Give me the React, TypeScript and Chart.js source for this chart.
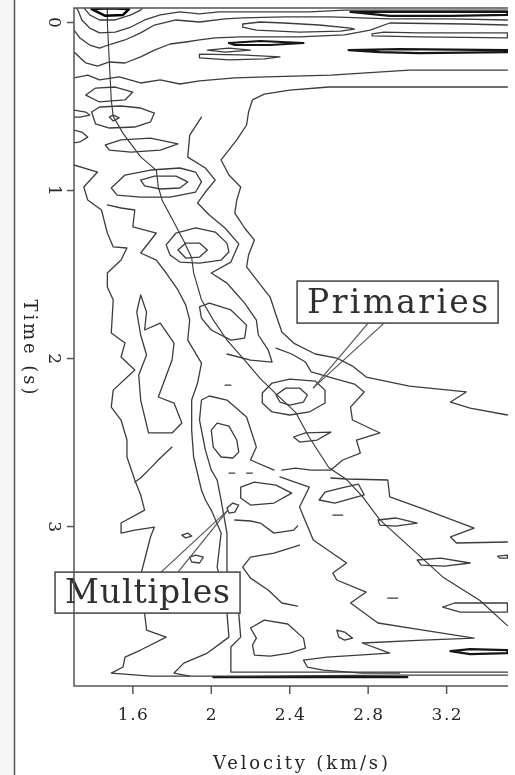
import React, { useEffect, useRef } from "react";
import { Chart, registerables } from "chart.js";

Chart.register(...registerables);

type P = [number, number];

// ---- axes ----
const xRange: P = [1.3, 3.513];
const yRange: P = [-0.0863, 3.949];
const xTickValues = [1.6, 2, 2.4, 2.8, 3.2];
const xTickLabels = ["1.6", "2", "2.4", "2.8", "3.2"];
const yTickValues = [0, 1, 2, 3];
const yTickLabels = ["0", "1", "2", "3"];
const xTitle = "Velocity (km/s)";
const yTitle = "Time (s)";

// ---- picked velocity trend (velocity km/s, time s) ----
const trendCurve: P[] = [
  [1.47, -0.09], [1.47, 0.0], [1.49, 0.46], [1.5, 0.56], [1.55, 0.66], [1.64, 0.8], [1.72, 0.88],
  [1.73, 0.98], [1.75, 1.06], [1.81, 1.19], [1.86, 1.3], [1.9, 1.4], [1.91, 1.49], [1.95, 1.65],
  [2.01, 1.77], [2.08, 1.89], [2.17, 2.01], [2.25, 2.12], [2.33, 2.21], [2.43, 2.32], [2.5, 2.47],
  [2.6, 2.65], [2.69, 2.72], [2.77, 2.82], [2.86, 2.96], [3.03, 3.14], [3.18, 3.3], [3.37, 3.44],
  [3.51, 3.59],
];

// ---- semblance contours (velocity km/s, time s) ----
const blobCore: P[] = [[1.39, -0.08], [1.48, -0.085], [1.58, -0.08], [1.55, -0.045], [1.46, -0.04], [1.39, -0.08]];
const blobRing: P[] = [[1.35, -0.09], [1.36, -0.074], [1.38, -0.045], [1.43, -0.015], [1.51, -0.015], [1.59, -0.045], [1.64, -0.074], [1.65, -0.09]];
const topBand1: P[] = [[1.31, -0.09], [1.32, -0.074], [1.34, -0.015], [1.38, 0.033], [1.43, 0.062], [1.51, 0.057], [1.59, 0.027], [1.66, -0.015], [1.74, -0.045], [1.84, -0.063], [1.94, -0.051], [2.04, -0.063], [2.5, -0.063], [2.68, -0.074], [3.06, -0.074], [3.51, -0.074]];
const topDark1: P[] = [[2.71, -0.063], [2.86, -0.063], [3.51, -0.063], [3.51, -0.045], [3.22, -0.039], [2.91, -0.039], [2.71, -0.063]];
const topBand2: P[] = [[1.3, 0.045], [1.33, 0.092], [1.38, 0.134], [1.43, 0.152], [1.49, 0.128], [1.56, 0.104], [1.64, 0.062], [1.71, 0.015], [1.82, -0.015], [1.94, -0.003], [2.07, -0.021], [2.16, -0.027], [2.37, -0.033], [2.61, -0.033], [2.76, -0.027], [2.91, -0.021], [3.22, -0.021], [3.51, -0.015]];
const topLens1: P[] = [[2.16, 0.009], [2.25, -0.003], [2.37, 0.003], [2.55, 0.015], [2.71, 0.033], [2.73, 0.039], [2.66, 0.051], [2.45, 0.057], [2.23, 0.045], [2.16, 0.027], [2.16, 0.009]];
const topBand3: P[] = [[1.3, 0.176], [1.36, 0.241], [1.42, 0.259], [1.48, 0.235], [1.56, 0.241], [1.64, 0.205], [1.71, 0.164], [1.79, 0.128], [1.87, 0.116], [1.94, 0.104], [2.02, 0.092], [2.15, 0.086], [2.45, 0.086], [2.68, 0.074], [2.81, 0.045], [2.91, 0.003], [3.3, 0.009], [3.51, 0.015]];
const topLens2: P[] = [[2.82, 0.068], [2.88, 0.057], [3.06, 0.062], [3.51, 0.062], [3.51, 0.092], [3.06, 0.086], [2.82, 0.08], [2.82, 0.068]];
const topDark2: P[] = [[2.09, 0.122], [2.25, 0.11], [2.47, 0.122], [2.3, 0.134], [2.12, 0.134], [2.09, 0.122]];
const topLens3: P[] = [[1.98, 0.164], [2.09, 0.152], [2.2, 0.164], [2.07, 0.176], [1.98, 0.164]];
const topLens4: P[] = [[1.94, 0.188], [2.15, 0.193], [2.35, 0.205], [2.27, 0.217], [2.09, 0.223], [1.94, 0.211], [1.94, 0.188]];
const topDark3: P[] = [[2.7, 0.164], [2.96, 0.158], [3.51, 0.164], [3.51, 0.176], [3.06, 0.182], [2.86, 0.176], [2.7, 0.164]];
const topBand4: P[] = [[1.3, 0.33], [1.37, 0.313], [1.43, 0.342], [1.53, 0.324], [1.64, 0.36], [1.74, 0.342], [1.84, 0.366], [1.94, 0.348], [2.12, 0.33], [2.28, 0.324], [2.61, 0.313], [3.01, 0.283], [3.51, 0.283]];
const outerBoundary: P[] = [[3.51, 0.384], [3.06, 0.384], [2.6, 0.384], [2.4, 0.402], [2.27, 0.426], [2.21, 0.461], [2.19, 0.533], [2.18, 0.61], [2.13, 0.699], [2.05, 0.818], [2.09, 0.908], [2.15, 0.979], [2.13, 1.057], [2.12, 1.134], [2.17, 1.223], [2.22, 1.295], [2.19, 1.384], [2.18, 1.455], [2.24, 1.545], [2.3, 1.634], [2.33, 1.741], [2.36, 1.842], [2.42, 1.908], [2.53, 1.973], [2.64, 1.997], [2.72, 2.045], [2.79, 2.11], [3.01, 2.164], [3.3, 2.199], [3.22, 2.259], [3.32, 2.295], [3.51, 2.336]];
const lensA: P[] = [[1.36, 0.432], [1.41, 0.39], [1.51, 0.384], [1.6, 0.414], [1.56, 0.461], [1.43, 0.473], [1.36, 0.432]];
const edgeLoopA: P[] = [[1.3, 0.521], [1.36, 0.533], [1.38, 0.551], [1.33, 0.563], [1.3, 0.563]];
const ringSmall: P[] = [[1.48, 0.563], [1.5, 0.551], [1.53, 0.568], [1.5, 0.586], [1.48, 0.563]];
const lensB: P[] = [[1.39, 0.533], [1.43, 0.503], [1.54, 0.497], [1.64, 0.509], [1.71, 0.539], [1.69, 0.592], [1.61, 0.622], [1.48, 0.628], [1.41, 0.604], [1.39, 0.533]];
const lensC: P[] = [[1.46, 0.729], [1.54, 0.699], [1.69, 0.688], [1.83, 0.723], [1.74, 0.759], [1.59, 0.771], [1.48, 0.759], [1.46, 0.729]];
const edgeLoopB: P[] = [[1.3, 0.64], [1.34, 0.652], [1.37, 0.682], [1.33, 0.711], [1.3, 0.717]];
const peak1Inner: P[] = [[1.64, 0.938], [1.71, 0.914], [1.82, 0.914], [1.88, 0.949], [1.84, 0.985], [1.74, 0.991], [1.66, 0.973], [1.64, 0.938]];
const peak1Outer: P[] = [[1.49, 0.985], [1.56, 0.908], [1.69, 0.878], [1.84, 0.866], [1.92, 0.89], [1.95, 0.949], [1.92, 1.009], [1.79, 1.039], [1.64, 1.039], [1.52, 1.027], [1.49, 0.985]];
const peak2Inner: P[] = [[1.83, 1.354], [1.87, 1.313], [1.94, 1.313], [1.98, 1.354], [1.94, 1.396], [1.87, 1.402], [1.83, 1.354]];
const peak2Outer: P[] = [[1.77, 1.324], [1.82, 1.253], [1.92, 1.223], [2.02, 1.247], [2.08, 1.313], [2.09, 1.366], [2.05, 1.414], [1.94, 1.432], [1.84, 1.426], [1.79, 1.384], [1.77, 1.324]];
const leftWave: P[] = [[1.3, 0.848], [1.42, 0.89], [1.35, 0.979], [1.37, 1.057], [1.44, 1.116], [1.47, 1.253], [1.5, 1.336], [1.57, 1.342], [1.54, 1.414], [1.47, 1.491], [1.47, 1.574], [1.5, 1.652], [1.49, 1.848], [1.56, 1.908], [1.54, 1.991], [1.61, 2.068], [1.5, 2.188], [1.49, 2.289], [1.54, 2.366], [1.57, 2.485], [1.57, 2.586], [1.61, 2.723], [1.64, 2.812], [1.66, 2.902], [1.54, 2.979], [1.54, 3.039], [1.61, 3.021], [1.71, 3.003], [1.69, 3.062], [1.66, 3.199], [1.64, 3.289], [1.66, 3.515], [1.67, 3.616], [1.77, 3.658], [1.64, 3.735], [1.56, 3.777], [1.55, 3.836], [1.49, 3.872], [1.69, 3.89], [2.15, 3.89], [2.96, 3.884], [3.51, 3.884]];
const midWave: P[] = [[1.47, 1.086], [1.54, 1.104], [1.61, 1.116], [1.6, 1.217], [1.72, 1.253], [1.64, 1.372], [1.72, 1.414], [1.77, 1.491], [1.83, 1.592], [1.87, 1.682], [1.89, 1.771], [1.88, 1.89], [1.95, 2.027], [1.93, 2.146], [1.9, 2.247], [1.9, 2.426], [1.91, 2.586], [1.95, 2.783], [1.97, 2.842], [2.0, 2.902], [2.05, 3.039], [2.03, 3.241], [2.06, 3.378], [2.08, 3.515], [2.09, 3.658], [1.98, 3.753], [1.86, 3.813], [1.81, 3.872], [1.89, 3.89]];
const rightWave: P[] = [[1.95, 0.563], [1.89, 0.67], [1.88, 0.801], [1.97, 0.866], [2.02, 0.938], [1.97, 1.009], [1.93, 1.074], [1.99, 1.146], [2.07, 1.223], [2.14, 1.318], [2.1, 1.426], [2.0, 1.491], [2.08, 1.551], [2.12, 1.604], [2.17, 1.67], [2.23, 1.771], [2.24, 1.86], [2.29, 1.949], [2.31, 2.021], [2.2, 2.009], [2.08, 1.973]];
const tongue: P[] = [[1.64, 1.622], [1.67, 1.723], [1.66, 1.83], [1.74, 1.789], [1.81, 1.908], [1.8, 2.009], [1.73, 2.229], [1.81, 2.265], [1.85, 2.384], [1.8, 2.443], [1.68, 2.443], [1.64, 2.247], [1.63, 2.098], [1.67, 1.979], [1.64, 1.86], [1.62, 1.723], [1.64, 1.622]];
const ovalD: P[] = [[1.94, 1.693], [1.99, 1.67], [2.1, 1.711], [2.18, 1.801], [2.17, 1.878], [2.1, 1.89], [2.0, 1.83], [1.95, 1.759], [1.94, 1.693]];
const lowerWave: P[] = [[2.32, 2.664], [2.2, 2.604], [2.23, 2.527], [2.18, 2.348], [2.08, 2.247], [1.99, 2.223], [1.95, 2.247], [1.94, 2.366], [1.97, 2.545], [2.0, 2.664], [2.03, 2.723], [2.05, 2.842], [2.08, 3.039], [2.08, 3.259], [2.12, 3.408], [2.14, 3.515], [2.15, 3.658], [2.1, 3.717], [2.1, 3.795], [2.1, 3.866], [2.45, 3.866], [3.51, 3.866]];
const egg: P[] = [[2.0, 2.426], [2.03, 2.384], [2.09, 2.402], [2.13, 2.485], [2.14, 2.557], [2.11, 2.592], [2.05, 2.586], [2.01, 2.527], [2.0, 2.426]];
const peak3Inner: P[] = [[2.33, 2.217], [2.38, 2.176], [2.45, 2.176], [2.49, 2.217], [2.47, 2.259], [2.4, 2.277], [2.35, 2.259], [2.33, 2.217]];
const peak3Outer: P[] = [[2.26, 2.205], [2.31, 2.146], [2.4, 2.122], [2.53, 2.134], [2.58, 2.188], [2.58, 2.265], [2.5, 2.318], [2.4, 2.336], [2.31, 2.318], [2.26, 2.265], [2.26, 2.205]];
const peak3Wave: P[] = [[2.33, 1.938], [2.41, 1.973], [2.48, 2.021], [2.51, 2.08], [2.62, 2.116], [2.73, 2.152], [2.78, 2.199], [2.71, 2.289], [2.72, 2.366], [2.86, 2.443], [2.74, 2.485], [2.76, 2.563], [2.67, 2.604], [2.61, 2.664], [2.51, 2.664], [2.43, 2.652], [2.36, 2.664]];
const lensE: P[] = [[2.42, 2.467], [2.48, 2.443], [2.61, 2.438], [2.54, 2.485], [2.45, 2.497], [2.42, 2.467]];
const rightLine1: P[] = [[2.61, 2.711], [2.69, 2.717], [2.9, 2.723], [2.91, 2.824], [3.07, 2.89], [3.34, 3.009], [3.22, 3.062], [3.25, 3.098], [3.51, 3.092]];
const loopF: P[] = [[2.55, 2.842], [2.63, 2.86], [2.78, 2.812], [2.75, 2.747], [2.66, 2.771], [2.58, 2.795], [2.55, 2.842]];
const lensG: P[] = [[2.85, 2.961], [2.94, 2.949], [3.05, 2.979], [2.94, 2.997], [2.86, 2.991], [2.85, 2.961]];
const lensH: P[] = [[3.05, 3.199], [3.17, 3.188], [3.32, 3.217], [3.19, 3.235], [3.07, 3.229], [3.05, 3.199]];
const edgeLoopC: P[] = [[3.46, 3.176], [3.51, 3.17], [3.51, 3.188], [3.47, 3.188], [3.46, 3.176]];
const lensI: P[] = [[3.18, 3.479], [3.24, 3.455], [3.51, 3.455], [3.51, 3.509], [3.27, 3.509], [3.18, 3.479]];
const darkLensJ: P[] = [[3.22, 3.741], [3.32, 3.729], [3.51, 3.735], [3.51, 3.753], [3.32, 3.759], [3.22, 3.741]];
const meander: P[] = [[2.35, 2.705], [2.5, 2.765], [2.45, 2.884], [2.52, 3.08], [2.69, 3.217], [2.62, 3.277], [2.64, 3.318], [2.79, 3.39], [2.71, 3.455], [2.85, 3.574], [3.08, 3.616], [3.34, 3.664], [3.08, 3.676], [2.77, 3.693], [2.91, 3.753], [2.59, 3.777], [2.47, 3.795], [2.49, 3.836], [2.57, 3.854], [2.77, 3.872], [2.96, 3.872]];
const loopK: P[] = [[2.64, 3.616], [2.68, 3.628], [2.72, 3.664], [2.68, 3.676], [2.65, 3.658], [2.64, 3.616]];
const loopL: P[] = [[2.2, 3.604], [2.27, 3.557], [2.39, 3.58], [2.47, 3.664], [2.48, 3.723], [2.4, 3.753], [2.3, 3.771], [2.22, 3.765], [2.21, 3.705], [2.23, 3.664], [2.2, 3.604]];
const loopM: P[] = [[2.15, 2.765], [2.22, 2.735], [2.33, 2.753], [2.41, 2.801], [2.32, 2.86], [2.2, 2.872], [2.15, 2.83], [2.15, 2.765]];
const lineN: P[] = [[2.12, 2.961], [2.2, 2.967], [2.25, 2.979], [2.32, 3.039], [2.42, 3.021], [2.44, 2.997]];
const lineO: P[] = [[2.45, 3.11], [2.32, 3.158], [2.2, 3.182], [2.16, 3.241], [2.2, 3.307], [2.29, 3.378], [2.36, 3.455], [2.44, 3.473]];
const multipleTarget: P[] = [[2.08, 2.89], [2.11, 2.86], [2.14, 2.872], [2.12, 2.914], [2.09, 2.92], [2.08, 2.89]];
const smallLoopP: P[] = [[1.85, 3.051], [1.88, 3.039], [1.9, 3.057], [1.87, 3.068], [1.85, 3.051]];
const smallLoopQ: P[] = [[1.89, 3.182], [1.92, 3.17], [1.96, 3.182], [1.94, 3.217], [1.9, 3.211], [1.89, 3.182]];
const lineR: P[] = [[1.8, 2.527], [1.74, 2.592], [1.69, 2.652], [1.64, 2.711], [1.61, 2.735]];
const dash1: P[] = [[2.07, 2.158], [2.1, 2.158]];
const dash2: P[] = [[2.9, 3.426], [2.95, 3.426]];
const dash3: P[] = [[2.62, 2.932], [2.67, 2.932]];
const dash4: P[] = [[2.09, 2.682], [2.12, 2.682]];
const dash5: P[] = [[2.18, 2.682], [2.21, 2.682]];
const bottomDark: P[] = [[2.01, 3.896], [2.45, 3.896], [3.0, 3.896]];

const thinContours: P[][] = [
  blobRing, topBand1, topBand2, topLens1, topBand3, topLens2, topLens3, topLens4, topBand4,
  outerBoundary, lensA, edgeLoopA, ringSmall, lensB, lensC, edgeLoopB, peak1Inner, peak1Outer,
  peak2Inner, peak2Outer, leftWave, midWave, rightWave, tongue, ovalD, lowerWave, egg,
  peak3Inner, peak3Outer, peak3Wave, lensE, rightLine1, loopF, lensG, lensH, edgeLoopC, lensI,
  meander, loopK, loopL, loopM, lineN, lineO, multipleTarget, smallLoopP, smallLoopQ, lineR,
  dash1, dash2, dash3, dash4, dash5,
];
const darkContours: P[][] = [topDark1, topDark2, topDark3, darkLensJ, bottomDark];
const blobContours: P[][] = [blobCore];

// ---- annotations: tip and box centre in data units ----
const annotationLabels = ["Primaries", "Multiples"];
const annotationTips: P[] = [[2.519, 2.176], [2.085, 2.902]];
const annotationBoxCentres: P[] = [[2.95, 1.664], [1.675, 3.393]];

const FONT = '"DejaVu Serif", "Liberation Serif", serif';
const INK = "#262626";
const LINE = "#3c3c3c";

const boxStyles = [
  { w: 201, h: 42, textW: 181, leader: [-29.5, -13.5] },
  { w: 185, h: 41, textW: 165, leader: [13.5, 30.5] },
];

function setSpacing(ctx: CanvasRenderingContext2D, px: number) {
  (ctx as any).letterSpacing = `${px}px`;
}

// draws text so that it spans the given width (wide letter spacing like the original plot)
function spacedText(ctx: CanvasRenderingContext2D, text: string, cx: number, cy: number, width: number) {
  setSpacing(ctx, 0);
  const w0 = ctx.measureText(text).width;
  const n = Math.max(1, text.length - 1);
  const sp = Math.max(0, (width - w0) / n);
  setSpacing(ctx, sp);
  ctx.textAlign = "left";
  const total = w0 + sp * n;
  ctx.fillText(text, cx - total / 2, cy);
  setSpacing(ctx, 0);
}

const decorPlugin = {
  id: "decor",
  beforeDraw(chart: any) {
    const ctx: CanvasRenderingContext2D = chart.ctx;
    ctx.save();
    ctx.fillStyle = "#f6f6f6";
    ctx.fillRect(0, 0, 14, chart.height);
    ctx.strokeStyle = "#555";
    ctx.lineWidth = 1.5;
    ctx.beginPath();
    ctx.moveTo(14.5, 0);
    ctx.lineTo(14.5, chart.height);
    ctx.stroke();
    ctx.restore();
  },
  afterDatasetsDraw(chart: any) {
    const ctx: CanvasRenderingContext2D = chart.ctx;
    const xs = chart.scales.x;
    const ys = chart.scales.y;
    ctx.save();
    annotationLabels.forEach((label, i) => {
      const st = boxStyles[i];
      const bx = xs.getPixelForValue(annotationBoxCentres[i][0]);
      const by = ys.getPixelForValue(annotationBoxCentres[i][1]);
      const tx = xs.getPixelForValue(annotationTips[i][0]);
      const ty = ys.getPixelForValue(annotationTips[i][1]);
      const left = bx - st.w / 2;
      const top = by - st.h / 2;
      const edgeY = ty > by ? top + st.h : top;
      ctx.strokeStyle = "#555";
      ctx.lineWidth = 1.2;
      st.leader.forEach((off) => {
        ctx.beginPath();
        ctx.moveTo(bx + off, edgeY);
        ctx.lineTo(tx, ty);
        ctx.stroke();
      });
      ctx.fillStyle = "#fff";
      ctx.fillRect(left, top, st.w, st.h);
      ctx.strokeStyle = "#444";
      ctx.lineWidth = 1.5;
      ctx.strokeRect(left, top, st.w, st.h);
      ctx.font = `33px ${FONT}`;
      ctx.fillStyle = "#303030";
      ctx.textBaseline = "alphabetic";
      spacedText(ctx, label, bx, top + st.h - 10, st.textW);
    });
    ctx.restore();
  },
  afterDraw(chart: any) {
    const ctx: CanvasRenderingContext2D = chart.ctx;
    const ca = chart.chartArea;
    const xs = chart.scales.x;
    const ys = chart.scales.y;
    ctx.save();
    ctx.strokeStyle = "#555";
    ctx.lineWidth = 1.5;
    ctx.beginPath();
    ctx.moveTo(ca.right, ca.top);
    ctx.lineTo(ca.left, ca.top);
    ctx.lineTo(ca.left, ca.bottom);
    ctx.lineTo(ca.right, ca.bottom);
    ctx.stroke();

    ctx.fillStyle = INK;
    ctx.font = `17px ${FONT}`;
    ctx.textBaseline = "middle";
    xTickValues.forEach((v, i) => {
      const px = xs.getPixelForValue(v);
      ctx.beginPath();
      ctx.moveTo(px, ca.bottom);
      ctx.lineTo(px, ca.bottom + 8);
      ctx.stroke();
      const lab = xTickLabels[i];
      spacedText(ctx, lab, px, ca.bottom + 30, lab.length > 1 ? 30 : 0);
    });
    yTickValues.forEach((v, i) => {
      const py = ys.getPixelForValue(v);
      ctx.beginPath();
      ctx.moveTo(ca.left - 7, py);
      ctx.lineTo(ca.left, py);
      ctx.stroke();
      ctx.save();
      ctx.translate(ca.left - 21, py);
      ctx.rotate(Math.PI / 2);
      ctx.textAlign = "center";
      ctx.fillText(yTickLabels[i], 0, 0);
      ctx.restore();
    });

    ctx.font = `18px ${FONT}`;
    spacedText(ctx, xTitle, (ca.left + ca.right) / 2 + 9.5, ca.bottom + 78, 175);
    ctx.save();
    ctx.translate(29, (ca.top + ca.bottom) / 2);
    ctx.rotate(Math.PI / 2);
    spacedText(ctx, yTitle, 0, 0, 95);
    ctx.restore();
    ctx.restore();
  },
};

function toXY(pts: P[]) {
  return pts.map(([x, y]) => ({ x, y }));
}

export default function App() {
  const ref = useRef<HTMLCanvasElement | null>(null);

  useEffect(() => {
    document.body.style.margin = "0";
    document.body.style.overflow = "hidden";
    if (!ref.current) return;

    const lineSet = (pts: P[], color: string, width: number) => ({
      data: toXY(pts),
      showLine: true,
      borderColor: color,
      backgroundColor: color,
      borderWidth: width,
      pointRadius: 0,
      pointHoverRadius: 0,
      fill: false,
      tension: 0,
      borderJoinStyle: "round" as const,
      borderCapStyle: "round" as const,
    });

    const datasets: any[] = [
      ...thinContours.map((c) => lineSet(c, LINE, 1.3)),
      ...darkContours.map((c) => lineSet(c, "#151515", 2.2)),
      ...blobContours.map((c) => ({ ...lineSet(c, "#000", 2.5), fill: true, backgroundColor: "#000" })),
      lineSet(trendCurve, "#333", 1.1),
    ];

    const chart = new Chart(ref.current, {
      type: "scatter",
      data: { datasets },
      plugins: [decorPlugin as any],
      options: {
        animation: false,
        responsive: false,
        devicePixelRatio: 1,
        layout: { padding: { top: 8, right: 7, left: 0, bottom: 0 } },
        plugins: { legend: { display: false }, tooltip: { enabled: false } },
        events: [],
        scales: {
          x: {
            type: "linear",
            min: xRange[0],
            max: xRange[1],
            grid: { display: false },
            border: { display: false },
            ticks: { display: false },
            afterFit: (s: any) => {
              s.height = 89;
            },
          },
          y: {
            type: "linear",
            reverse: true,
            min: yRange[0],
            max: yRange[1],
            grid: { display: false },
            border: { display: false },
            ticks: { display: false },
            afterFit: (s: any) => {
              s.width = 74;
            },
          },
        },
      } as any,
    });
    return () => chart.destroy();
  }, []);

  return (
    <div style={{ width: 515, height: 775, position: "relative", background: "#fff" }}>
      <canvas ref={ref} width={515} height={775} style={{ display: "block", width: 515, height: 775 }} />
    </div>
  );
}
